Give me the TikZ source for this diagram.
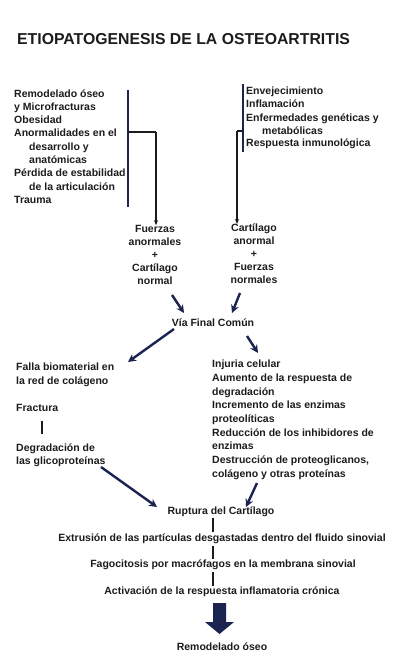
\documentclass[tikz,border=0pt]{standalone}
\usepackage{fontspec}
\setmainfont{Liberation Sans}
\usetikzlibrary{arrows.meta}
\definecolor{ink}{HTML}{1E1B1C}
\definecolor{navy}{HTML}{1B2350}
\begin{document}
\begin{tikzpicture}[x=1pt,y=-1pt,
  txt/.style={font=\bfseries\fontsize{10.5}{13}\selectfont, text=ink, inner sep=0pt, anchor=base west},
  ctr/.style={font=\bfseries\fontsize{10.5}{13}\selectfont, text=ink, inner sep=0pt, align=center},
  cline/.style={draw=ink, line width=1.3pt},
  barline/.style={draw=navy, line width=1.6pt},
  tip/.style={cline, -{Stealth[length=5pt,width=4pt]}},
  bigarrow/.style={draw=navy, line width=2.4pt, -{Stealth[length=8pt,width=8pt]}},
]
\path[fill=white] (0,0) rectangle (400,662);
\useasboundingbox (0,0) rectangle (400,662);

% title
\node[anchor=base west, inner sep=0pt, text=ink, font=\bfseries\fontsize{15.8}{17}\selectfont] (title) at (17,44) {ETIOPATOGENESIS DE LA OSTEOARTRITIS};

% left factors
\node[txt] (l1) at (14,97.5) {Remodelado óseo};
\node[txt] (l2) at (14,110.5) {y Microfracturas};
\node[txt] (l3) at (14,123.5) {Obesidad};
\node[txt] (l4) at (14,136.5) {Anormalidades en el};
\node[txt] (l5) at (29,150) {desarrollo y};
\node[txt] (l6) at (29,163) {anatómicas};
\node[txt] (l7) at (14,176.5) {Pérdida de estabilidad};
\node[txt] (l8) at (29,190) {de la articulación};
\node[txt] (l9) at (14,203.5) {Trauma};

\coordinate (lbT) at (128,90);
\coordinate (lbB) at (128,207);
\coordinate (lbJ) at (128,132);
\coordinate (lbC) at (156,132);
\draw[barline] (lbT) -- (lbB);
\draw[cline] (lbJ) -- (lbC);

% right factors
\node[txt] (r1) at (246,94.5) {Envejecimiento};
\node[txt] (r2) at (246,107.5) {Inflamación};
\node[txt] (r3) at (246,121) {Enfermedades genéticas y};
\node[txt] (r4) at (262,134) {metabólicas};
\node[txt] (r5) at (246,146.5) {Respuesta inmunológica};

\coordinate (rbT) at (243,84);
\coordinate (rbB) at (243,152);
\coordinate (rbJ) at (243,131);
\coordinate (rbC) at (237,131);
\draw[barline] (rbT) -- (rbB);
\draw[cline] (rbJ) -- (rbC);

% combinations
\node[ctr] (fa) at (155,255) {Fuerzas\\anormales\\+\\Cartílago\\normal};
\node[ctr] (ca) at (254,254) {Cartílago\\anormal\\+\\Fuerzas\\normales};

\draw[tip] (lbC) -- (fa.north -| lbC);
\draw[tip] (rbC) -- (ca.north -| rbC);

% via final
\node[ctr] (via) at (213,323) {Vía Final Común};
\coordinate (fa1) at (172,295);
\coordinate (va1) at (184,313);
\coordinate (ca1) at (240,293);
\coordinate (va2) at (232,313);
\draw[bigarrow] (fa1) -- (va1);
\draw[bigarrow] (ca1) -- (va2);

% split
\coordinate (v1) at (174,329);
\coordinate (fl1) at (128,362);
\coordinate (v2) at (247,336);
\coordinate (ij1) at (258,353);
\draw[bigarrow] (v1) -- (fl1);
\draw[bigarrow] (v2) -- (ij1);

% left branch
\node[txt] (f1) at (16,370.5) {Falla biomaterial en};
\node[txt] (f2) at (16,384.5) {la red de colágeno};
\node[txt] (fr) at (16,411) {Fractura};
\node[txt] (d1) at (16,451.5) {Degradación de};
\node[txt] (d2) at (16,464) {las glicoproteínas};
\coordinate (frB) at (42,421);
\coordinate (dgT) at (42,434);
\draw[cline] (frB) -- (dgT);

% right branch
\node[txt] (i1) at (212,367.5) {Injuria celular};
\node[txt] (i2) at (212,381.5) {Aumento de la respuesta de};
\node[txt] (i3) at (212,395) {degradación};
\node[txt] (i4) at (212,408.5) {Incremento de las enzimas};
\node[txt] (i5) at (212,422.5) {proteolíticas};
\node[txt] (i6) at (212,436) {Reducción de los inhibidores de};
\node[txt] (i7) at (212,449.5) {enzimas};
\node[txt] (i8) at (212,463.5) {Destrucción de proteoglicanos,};
\node[txt] (i9) at (212,477) {colágeno y otras proteínas};

% ruptura
\node[ctr] (rup) at (221,512) {Ruptura del Cartílago};
\coordinate (dg1) at (101,467);
\coordinate (ru1) at (157,507);
\coordinate (ds1) at (257,483);
\coordinate (ru2) at (246,507);
\draw[bigarrow] (dg1) -- (ru1);
\draw[bigarrow] (ds1) -- (ru2);

\node[ctr] (ext) at (222,538.5) {Extrusión de las partículas desgastadas dentro del fluido sinovial};
\node[ctr] (fag) at (223,565) {Fagocitosis por macrófagos en la membrana sinovial};
\node[ctr] (act) at (222,592) {Activación de la respuesta inflamatoria crónica};
\node[ctr] (rem) at (222,647) {Remodelado óseo};

\coordinate (c1) at (213,518);
\coordinate (c2) at (213,532);
\coordinate (c3) at (213,546);
\coordinate (c4) at (213,559);
\coordinate (c5) at (213,572);
\coordinate (c6) at (213,586);
\draw[cline] (c1) -- (c2);
\draw[cline] (c3) -- (c4);
\draw[cline] (c5) -- (c6);

% block arrow
\fill[navy] (213,603) -- (226,603) -- (226,622) -- (234,622) -- (219.5,634) -- (205,622) -- (213,622) -- cycle;
\end{tikzpicture}
\end{document}
